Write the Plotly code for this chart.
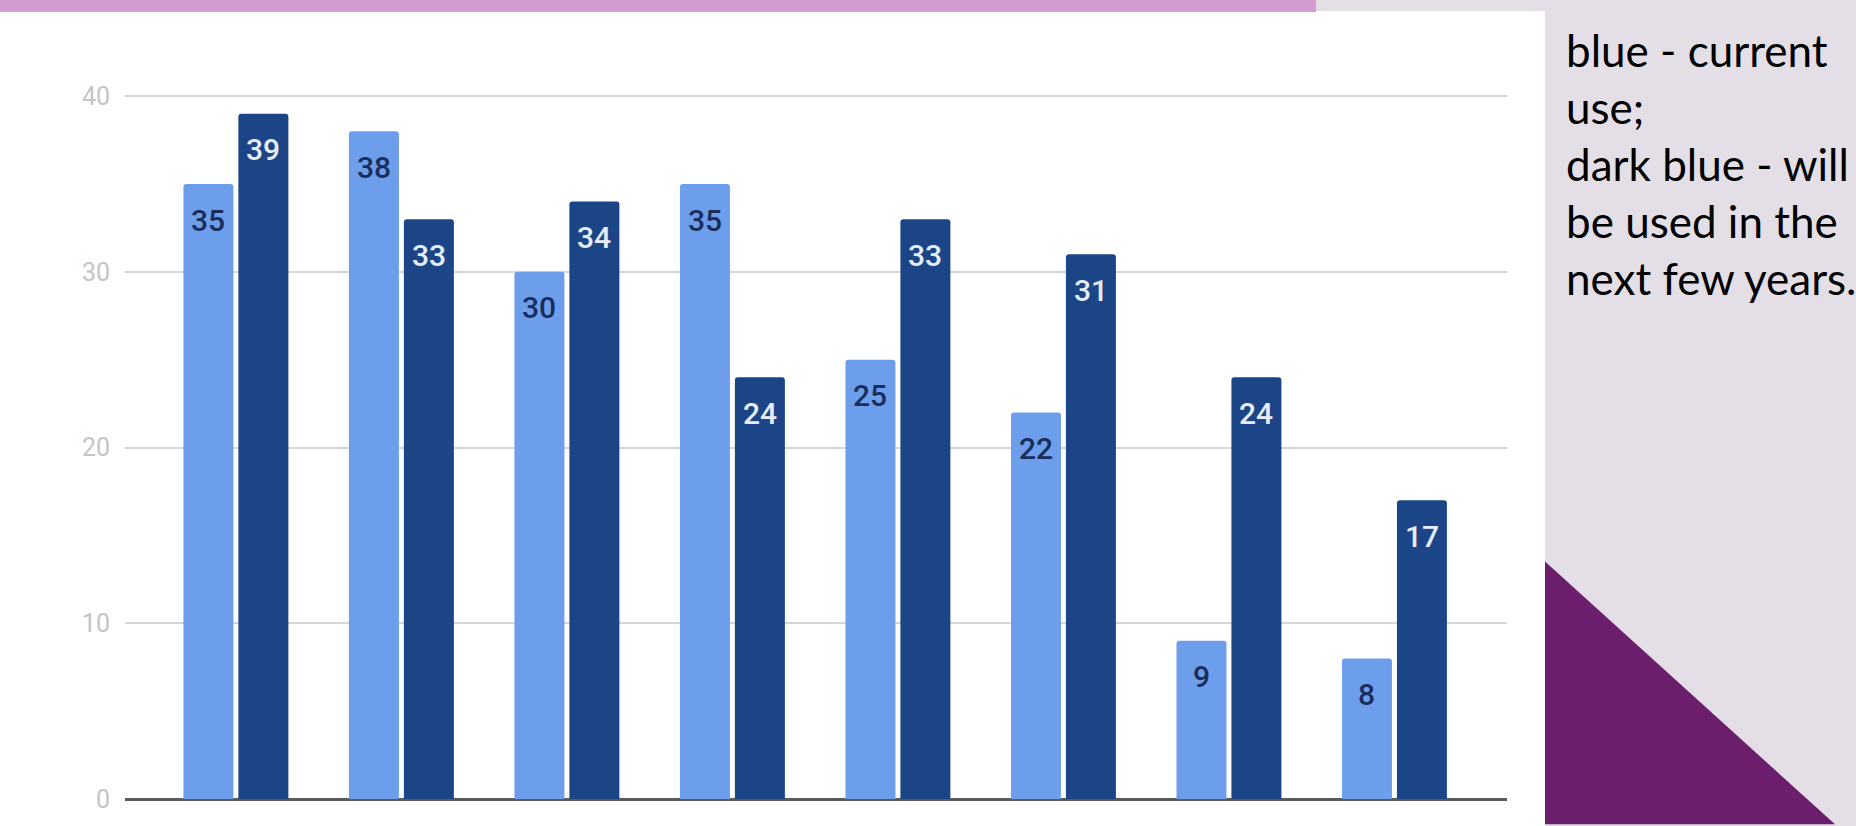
import plotly.graph_objects as go

# ---- data ----
categories = ["1", "2", "3", "4", "5", "6", "7", "8"]
current_use = [35, 38, 30, 35, 25, 22, 9, 8]
future_use = [39, 33, 34, 24, 33, 31, 24, 17]
y_ticks = [0, 10, 20, 30, 40]
note_lines = ["blue - current", "use;", "dark blue - will", "be used in the", "next few years."]

LIGHT = "#6d9eeb"
DARK = "#1c4587"

W, H = 1856, 826
ML, MR, MT, MB = 125, 349, 60.5, 21.5
PW, PH = W - ML - MR, H - MT - MB


def px_x(px):
    return (px - ML) / PW


def px_y(py):
    return (H - MB - py) / PH


BW = 0.302
fig = go.Figure()
fig.add_trace(go.Bar(x=list(range(len(categories))), y=current_use, width=BW, offset=-0.317,
                     marker=dict(color=LIGHT, cornerradius=3, line=dict(width=0)),
                     name="current use", hoverinfo="y"))
fig.add_trace(go.Bar(x=list(range(len(categories))), y=future_use, width=BW, offset=0.015,
                     marker=dict(color=DARK, cornerradius=3, line=dict(width=0)),
                     name="next few years", hoverinfo="y"))

annotations = []
for i, v in enumerate(current_use):
    annotations.append(dict(x=i - 0.166, y=v, xref="x", yref="y", text=str(v), showarrow=False,
                            yshift=-36, font=dict(family="Roboto", size=30, weight=500, color="#1b2d5c")))
for i, v in enumerate(future_use):
    annotations.append(dict(x=i + 0.166, y=v, xref="x", yref="y", text=str(v), showarrow=False,
                            yshift=-36, font=dict(family="Roboto", size=30, weight=500, color="#e6edf8")))

line_tops = [21, 79, 136, 194, 251]
for t, ln in zip(line_tops, note_lines):
    annotations.append(dict(x=px_x(1564), y=px_y(t), xref="paper", yref="paper", text=ln,
                            showarrow=False, xanchor="left", yanchor="top", align="left",
                            font=dict(family="Lato", size=44, color="#000000")))

shapes = [
    dict(type="rect", xref="paper", yref="paper", x0=px_x(-5), x1=px_x(1545), y0=px_y(840), y1=px_y(10),
         fillcolor="#ffffff", line=dict(width=0), layer="below"),
    dict(type="rect", xref="paper", yref="paper", x0=px_x(-5), x1=px_x(1316), y0=px_y(11), y1=px_y(-5),
         fillcolor="#d39bcf", line=dict(width=0), layer="below"),
    dict(type="path", xref="paper", yref="paper",
         path=f"M {px_x(1545)} {px_y(565)} L {px_x(1545)} {px_y(830)} L {px_x(1835)} {px_y(830)} Z",
         fillcolor="#6b1e6b", line=dict(width=0), layer="below"),
]

fig.update_layout(
    width=W, height=H,
    margin=dict(l=ML, r=MR, t=MT, b=MB, pad=0),
    paper_bgcolor="#e4dfe6",
    plot_bgcolor="rgba(0,0,0,0)",
    showlegend=False,
    annotations=annotations,
    shapes=shapes,
    xaxis=dict(range=[-0.67, 7.68], showticklabels=False, showgrid=False, zeroline=False,
               showline=False, fixedrange=True),
    yaxis=dict(range=[0, 42], tickvals=y_ticks, showgrid=True, gridcolor="#d6d6d6", gridwidth=2,
               zeroline=True, zerolinecolor="#5a5a5a", zerolinewidth=3,
               tickfont=dict(family="Roboto", size=25, color="#c4c4c4"),
               ticklabelstandoff=14, fixedrange=True),
)

fig.write_html("out.html")
